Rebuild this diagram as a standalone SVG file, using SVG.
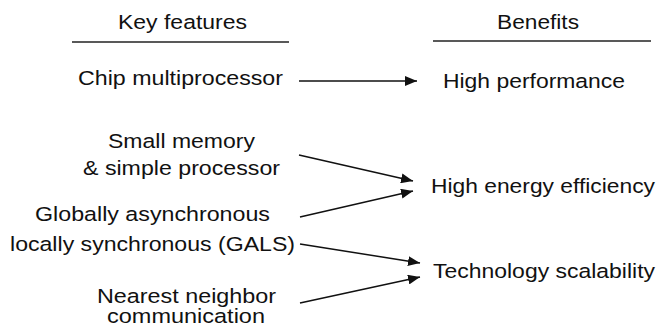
<svg xmlns="http://www.w3.org/2000/svg" width="660" height="327" viewBox="0 0 660 327">
  <style>
    text { font-family: "Liberation Sans", Arial, sans-serif; font-size: 20.5px; fill: #111; text-anchor: middle; }
    .rule { stroke: #222; stroke-width: 1.6; }
    .conn { stroke: #111; stroke-width: 1.5; fill: none; marker-end: url(#arrow); }
  </style>
  <defs>
    <marker id="arrow" viewBox="0 0 12 10" refX="12" refY="5" markerWidth="12" markerHeight="10" markerUnits="userSpaceOnUse" orient="auto">
      <path d="M0,0 L12,5 L0,10 Z" fill="#111"/>
    </marker>
  </defs>

  <!-- column headings -->
  <g id="heading-features">
    <text x="182.5" y="29" textLength="129" lengthAdjust="spacingAndGlyphs">Key features</text>
    <line class="rule" x1="72" y1="42" x2="289" y2="42"/>
  </g>
  <g id="heading-benefits">
    <text x="538" y="29" textLength="82" lengthAdjust="spacingAndGlyphs">Benefits</text>
    <line class="rule" x1="433" y1="41" x2="651" y2="41"/>
  </g>

  <!-- key features -->
  <g id="feature-cmp">
    <text x="180.5" y="85" textLength="205" lengthAdjust="spacingAndGlyphs">Chip multiprocessor</text>
  </g>
  <g id="feature-small-memory">
    <text x="181.5" y="148" textLength="147" lengthAdjust="spacingAndGlyphs">Small memory</text>
    <text x="181.5" y="175" textLength="197" lengthAdjust="spacingAndGlyphs">&amp; simple processor</text>
  </g>
  <g id="feature-gals">
    <text x="152.5" y="221" textLength="235" lengthAdjust="spacingAndGlyphs">Globally asynchronous</text>
    <text x="152.5" y="251" textLength="285" lengthAdjust="spacingAndGlyphs">locally synchronous (GALS)</text>
  </g>
  <g id="feature-nearest-neighbor">
    <text x="186.5" y="303" textLength="179" lengthAdjust="spacingAndGlyphs">Nearest neighbor</text>
    <text x="186" y="323" textLength="158" lengthAdjust="spacingAndGlyphs">communication</text>
  </g>

  <!-- benefits -->
  <g id="benefit-performance">
    <text x="534" y="88" textLength="182" lengthAdjust="spacingAndGlyphs">High performance</text>
  </g>
  <g id="benefit-energy">
    <text x="543" y="193" textLength="224" lengthAdjust="spacingAndGlyphs">High energy efficiency</text>
  </g>
  <g id="benefit-scalability">
    <text x="544" y="278" textLength="222" lengthAdjust="spacingAndGlyphs">Technology scalability</text>
  </g>

  <!-- connectors -->
  <g id="connectors">
    <line class="conn" x1="299" y1="81" x2="417" y2="81"/>
    <line class="conn" x1="299" y1="155" x2="413" y2="181"/>
    <line class="conn" x1="300" y1="217" x2="413" y2="191"/>
    <line class="conn" x1="300" y1="244" x2="420" y2="263"/>
    <line class="conn" x1="300" y1="303" x2="420" y2="277"/>
  </g>
</svg>
